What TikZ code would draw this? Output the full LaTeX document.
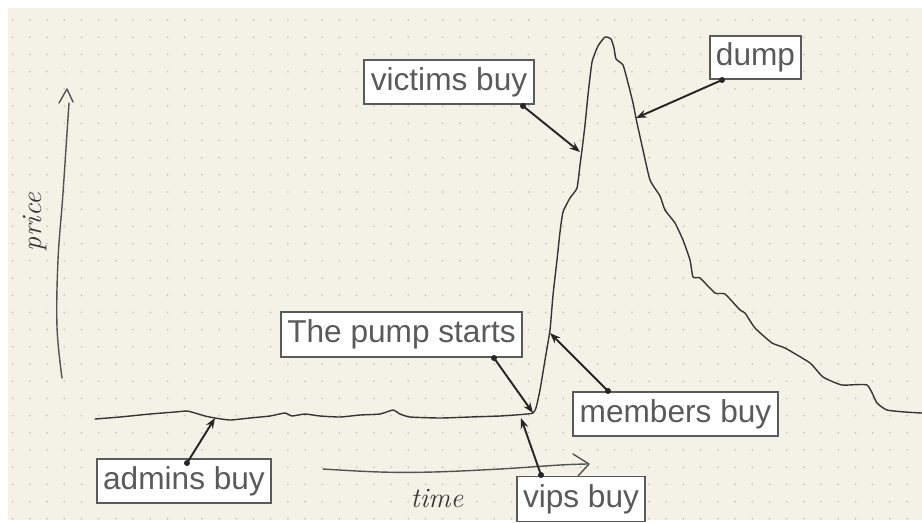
\documentclass[tikz,border=0pt]{standalone}
\usepackage{fontspec}
\newfontfamily\labelfont{Liberation Sans}
\usetikzlibrary{arrows.meta}

\definecolor{paper}{HTML}{F4F2E6}
\definecolor{griddot}{HTML}{CDCBBD}
\definecolor{ink}{HTML}{353535}
\definecolor{boxtext}{HTML}{5A5A5A}

\begin{document}
\begin{tikzpicture}[x=0.02cm, y=-0.02cm]
    % Define styles
    \tikzstyle{label} = [rectangle, draw=boxtext, line width=0.85pt, fill=white, inner sep=0pt, text=boxtext, font=\labelfont\fontsize{18}{20}\selectfont]
    \tikzstyle{callout} = [line width=1.1pt, draw=black!85, -{Stealth[length=6pt, width=4.5pt]}]
    \tikzstyle{pin} = [circle, fill=black!85, inner sep=0pt, minimum size=3.4pt]
    \tikzstyle{pen} = [draw=ink, line width=0.8pt, line join=round, line cap=round]
    \tikzstyle{hand} = [text=ink, font=\itshape\fontsize{16}{18}\selectfont]

    % Paper
    \useasboundingbox (0,0) rectangle (922,522);
    \fill[white] (0,0) rectangle (922,522);
    \fill[paper] (8,8) rectangle (922,520);
    \foreach \i in {0,...,52}
        \foreach \j in {0,...,29}
            \fill[griddot] (12.7+17.2*\i, 20+17.2*\j) circle (0.6pt);

    % Axes
    \draw[pen, draw=ink!85] plot[smooth, tension=0.6] coordinates {(62,378) (57,327) (58,260) (63,193) (69,103)};
    \draw[pen, draw=ink!85] (59,103) -- (67,89) -- (73,102);
    \node[hand, rotate=90] (price) at (35,222) {price};
    \draw[pen, draw=ink!85] plot[smooth, tension=0.6] coordinates {(323,469) (380,472) (433,472) (500,469) (560,465) (587,464)};
    \draw[pen, draw=ink!85] (573,454) -- (589,464) -- (578,476);
    \node[hand] (time) at (437,498) {time};

    % Price curve
    \draw[pen] plot[smooth, tension=0.3] coordinates {
        (95,419) (120,417) (150,414) (175,412) (187,411) (195,413) (205,416) (215,418)
        (230,420) (250,418) (270,416) (285,413) (292,416) (305,414) (320,416) (340,417)
        (360,415) (380,414) (393,410) (400,414) (410,417) (440,418) (470,417) (500,416)
        (515,415) (527,414) (533,413) (536,408) (540,390) (545,360) (550,330) (553,295)
        (557,260) (560,232) (563,212) (570,198) (577,188) (580,165) (582,150) (585,125)
        (588,95) (592,62) (598,46) (605,37) (611,39) (614,48) (616,59) (623,65)
        (628,83) (633,103) (637,123) (643,150) (650,180) (660,196) (665,210) (675,223)
        (683,240) (690,260) (693,277) (700,278) (715,293) (725,294) (740,310) (745,313)
        (755,328) (772,343) (785,348) (810,363) (823,377) (842,385) (867,385) (877,403)
        (887,410) (905,412) (922,413)};

    % Nodes
    \node[label, minimum width=3.4cm, minimum height=0.88cm] (victims) at (449,82) {victims buy};
    \node[label, minimum width=1.82cm, minimum height=0.86cm] (dump) at (755.5,57.5) {dump};
    \node[label, minimum width=4.82cm, minimum height=0.9cm] (pump) at (401.5,334.5) {The pump starts};
    \node[label, minimum width=4.1cm, minimum height=0.88cm] (members) at (675.5,414) {members buy};
    \node[label, minimum width=2.56cm, minimum height=0.9cm] (vips) at (581,499) {vips buy};
    \node[label, minimum width=3.48cm, minimum height=0.88cm] (admins) at (184,481) {admins buy};

    % Arrow ends
    \coordinate (victimsdot) at (523,106);  \coordinate (victimstip) at (580,152);
    \coordinate (dumpdot) at (722,80);      \coordinate (dumptip) at (636,118);
    \coordinate (pumpdot) at (494,358);     \coordinate (pumptip) at (533,413);
    \coordinate (membersdot) at (608,391);  \coordinate (memberstip) at (550,333);
    \coordinate (vipsdot) at (541,475);     \coordinate (vipstip) at (521,418);
    \coordinate (adminsdot) at (187,463);   \coordinate (adminstip) at (215,418);

    % Arrows
    \foreach \who in {victims, dump, pump, members, vips, admins} {
        \draw[callout] (\who dot) -- (\who tip);
        \node[pin] at (\who dot) {};
    }
\end{tikzpicture}
\end{document}
